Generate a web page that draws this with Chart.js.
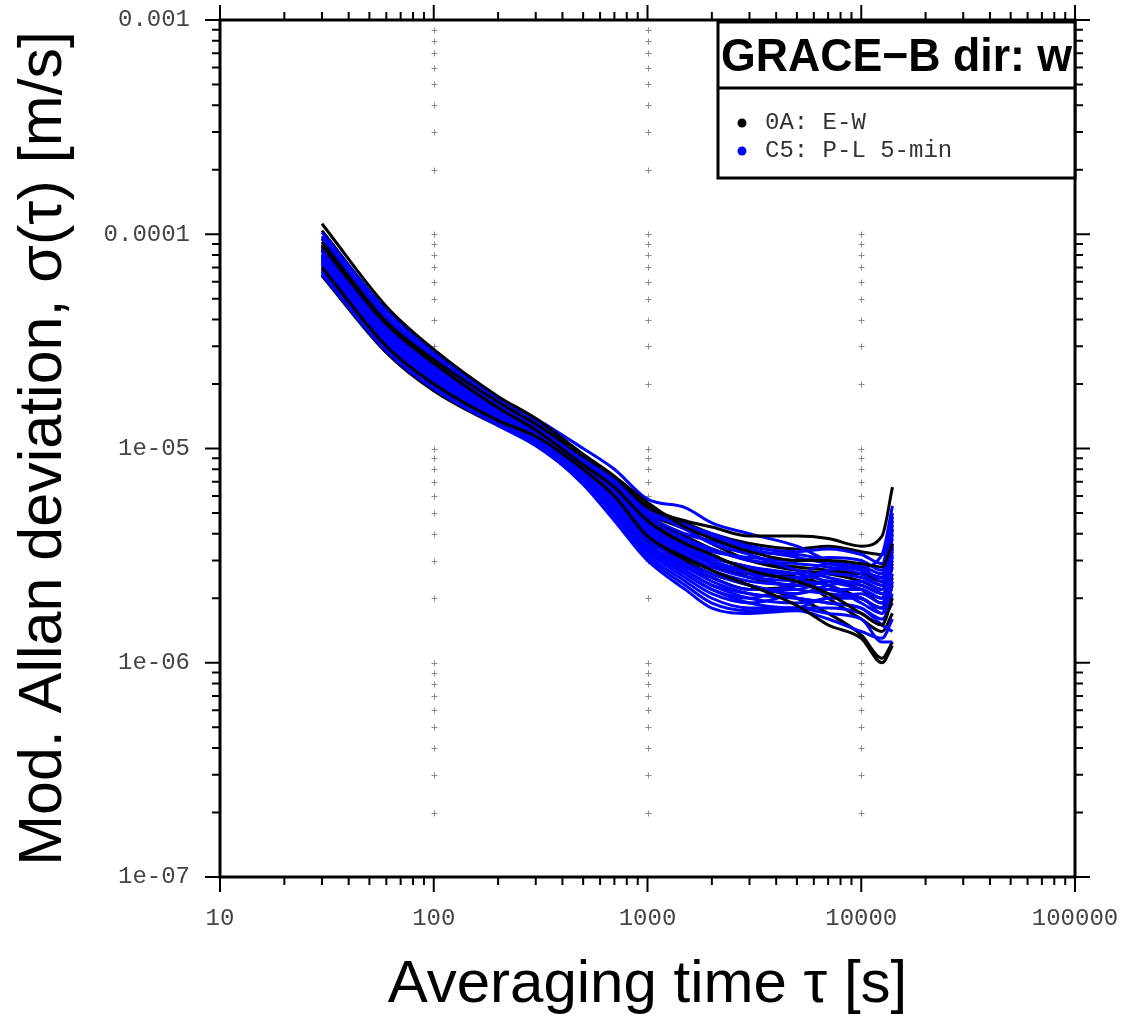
<!DOCTYPE html>
<html>
<head>
<meta charset="utf-8">
<title>GRACE-B dir: w</title>
<script src="https://cdn.jsdelivr.net/npm/chart.js@4.4.1/dist/chart.umd.min.js"></script>
<style>
  html, body { margin: 0; padding: 0; background: #fff; }
  #wrap { width: 1122px; height: 1021px; position: relative; }
</style>
</head>
<body>
<div id="wrap"><canvas id="diagram"></canvas></div>
<script>
// averaging time tau [s]
const tau = [30, 60, 100, 200, 300, 500, 700, 1000, 1500, 2000, 3000, 5000, 7000, 10000, 12500, 14000];

// mod. Allan deviation per run, in 1e-6 m/s
const runsEW = [
  [112, 46, 29, 17.5, 13.8, 9.4, 7.4, 5.3, 4.6, 4.3, 3.9, 3.9, 3.8, 3.5, 3.9, 6.6],
  [104, 44, 28, 17, 13.2, 9.0, 7.2, 5.4, 4.5, 4.0, 3.6, 3.4, 3.5, 3.3, 3.2, 4.2],
  [96, 40, 26, 16, 12.6, 8.8, 6.9, 5.0, 4.2, 3.6, 3.0, 2.7, 2.6, 2.4, 2.2, 2.9],
  [88, 38, 25, 15.5, 12.2, 8.4, 6.6, 4.6, 3.6, 3.2, 2.7, 2.4, 2.1, 1.7, 1.5, 2.0],
  [80, 34, 23, 14.6, 11.8, 8.2, 6.2, 4.2, 3.4, 2.9, 2.5, 2.3, 2.4, 2.2, 1.9, 2.5],
  [74, 31, 21, 13.5, 11.0, 7.8, 5.8, 3.9, 3.0, 2.6, 2.3, 2.0, 1.7, 1.35, 1.05, 1.25],
  [70, 30, 20, 13.5, 11.4, 8.0, 6.0, 3.9, 3.1, 2.7, 2.3, 1.85, 1.5, 1.3, 1.0, 1.2],
  [66, 28.5, 19, 13.0, 11.0, 7.5, 5.6, 3.7, 3.1, 2.8, 2.6, 2.5, 2.3, 2.0, 1.8, 2.3],
  [64, 28, 18.6, 12.8, 10.8, 7.2, 5.4, 3.6, 2.8, 2.5, 2.2, 2.3, 2.6, 2.6, 2.4, 3.0],
  [92, 39, 26, 16.5, 13.0, 9.2, 7.4, 5.6, 4.3, 3.8, 3.3, 3.0, 3.0, 2.9, 2.8, 3.6],
  [84, 36, 24, 15.5, 12.0, 8.6, 6.9, 4.8, 3.9, 3.4, 3.0, 2.8, 2.7, 2.6, 2.5, 3.3],
  [78, 33, 22, 14, 11.3, 8.0, 6.3, 4.4, 3.5, 3.1, 2.8, 2.5, 2.0, 1.6, 1.4, 1.7]
];

const runsPL = [
  [102, 44, 28, 17.2, 13.8, 10.0, 8.0, 5.8, 5.3, 4.5, 4.0, 3.5, 3.0, 2.8, 3.2, 5.4],
  [98, 42, 27, 16.8, 13.5, 9.3, 7.2, 5.2, 4.4, 4.0, 3.5, 3.3, 3.4, 3.2, 2.9, 5.0],
  [95, 41, 26.5, 16.5, 13.2, 9.1, 7.0, 4.9, 4.0, 3.7, 3.3, 3.2, 3.0, 2.7, 2.5, 4.6],
  [92, 40, 26, 16, 12.8, 8.9, 6.8, 4.7, 3.8, 3.4, 3.0, 2.9, 2.8, 2.6, 2.3, 4.2],
  [90, 38, 25, 15.7, 12.5, 8.7, 6.6, 4.5, 3.7, 3.3, 3.1, 3.0, 3.1, 3.0, 2.7, 3.8],
  [87, 37, 24.5, 15.4, 12.3, 8.5, 6.4, 4.3, 3.5, 3.1, 2.8, 2.6, 2.4, 2.2, 2.0, 3.4],
  [85, 36, 24, 15.2, 12.1, 8.3, 6.2, 4.2, 3.3, 2.9, 2.6, 2.5, 2.6, 2.5, 2.3, 3.0],
  [83, 35, 23.5, 15, 11.9, 8.1, 6.0, 4.0, 3.1, 2.7, 2.4, 2.3, 2.2, 2.0, 1.8, 2.6],
  [81, 34.5, 23, 14.8, 11.7, 7.9, 5.8, 3.8, 2.9, 2.5, 2.2, 2.2, 2.4, 2.3, 2.1, 2.2],
  [79, 34, 22.5, 14.5, 11.5, 7.7, 5.6, 3.6, 2.8, 2.4, 2.1, 2.0, 1.9, 1.8, 1.6, 1.9],
  [77, 33, 22, 14.3, 11.3, 7.5, 5.4, 3.5, 2.7, 2.3, 2.0, 1.9, 2.0, 2.1, 1.9, 2.8],
  [75, 32, 21.5, 14, 11.1, 7.3, 5.2, 3.4, 2.6, 2.2, 1.9, 1.8, 1.8, 1.7, 1.5, 2.4],
  [73, 31, 21, 13.8, 10.9, 7.1, 5.0, 3.2, 2.4, 2.0, 1.8, 1.8, 1.7, 1.6, 1.25, 1.25],
  [71, 30, 20.5, 13.5, 10.7, 6.9, 4.8, 3.1, 2.3, 1.9, 1.75, 1.8, 2.0, 2.0, 1.7, 3.2],
  [69, 29.5, 20, 13.2, 10.5, 6.8, 4.6, 3.0, 2.2, 1.8, 1.7, 1.75, 1.6, 1.4, 1.3, 1.6],
  [67, 29, 19.5, 13, 10.4, 6.9, 4.9, 3.3, 2.5, 2.1, 1.9, 2.1, 2.2, 2.2, 2.0, 3.6],
  [65, 28.5, 19, 12.8, 10.3, 7.0, 5.1, 3.4, 2.6, 2.2, 2.0, 2.4, 2.7, 2.8, 2.6, 4.4],
  [88, 37.5, 25, 15.6, 12.4, 8.8, 7.0, 5.2, 4.2, 3.6, 3.2, 2.7, 2.5, 2.3, 2.1, 2.0],
  [84, 35.5, 24, 15.3, 12.2, 8.6, 6.6, 4.6, 3.6, 3.0, 2.7, 2.6, 2.9, 2.8, 2.4, 3.1],
  [76, 32.5, 22, 14.4, 11.6, 8.2, 6.2, 4.1, 3.2, 2.8, 2.5, 2.4, 2.3, 1.9, 1.7, 2.1],
  [86, 36.5, 24.5, 15.5, 12.6, 9.0, 7.1, 5.0, 4.4, 3.9, 3.4, 3.1, 2.9, 2.7, 2.5, 4.8],
  [80, 34, 23, 14.9, 12.0, 8.4, 6.3, 4.4, 3.4, 3.0, 2.6, 2.2, 2.1, 2.0, 1.8, 3.5],
  [72, 31, 21, 13.9, 11.2, 7.6, 5.5, 3.6, 2.9, 2.6, 2.3, 2.1, 2.3, 2.4, 2.2, 4.0],
  [68, 29.5, 20, 13.4, 10.8, 7.2, 5.2, 3.5, 2.7, 2.3, 2.1, 2.0, 1.9, 1.8, 1.5, 1.4]
];

const seriesNames = ["0A: E-W", "C5: P-L 5-min"];
const seriesColors = ["#000000", "#0000ff"];
const boxTitle = "GRACE\u2212B dir: w";

const xDecades = [10, 100, 1000, 10000, 100000];
const xTickLabels = ["10", "100", "1000", "10000", "100000"];
const yDecades = [1e-7, 1e-6, 1e-5, 1e-4, 1e-3];
const yTickLabels = ["1e-07", "1e-06", "1e-05", "0.0001", "0.001"];

const monoFont = "'Liberation Mono', 'DejaVu Sans Mono', monospace";
const sansFont = "'Liberation Sans', Arial, sans-serif";

// 1..9 x each decade, used for minor ticks and the "+" grid
function allTicks(decades) {
  const out = [];
  for (let i = 0; i < decades.length - 1; i++) {
    for (let m = 1; m < 10; m++) out.push(decades[i] * m);
  }
  out.push(decades[decades.length - 1]);
  return out;
}

function toDataset(run, name, color, order) {
  return {
    label: name,
    data: run.map((v, i) => ({ x: tau[i], y: v * 1e-6 })),
    borderColor: color,
    borderWidth: 3,
    pointRadius: 0,
    fill: false,
    cubicInterpolationMode: "monotone",
    order: order
  };
}

// blue mostly on top, a few black runs drawn over it
const datasets = [];
runsPL.forEach((run) => datasets.push(toDataset(run, seriesNames[1], seriesColors[1], 1)));
runsEW.forEach((run, i) => datasets.push(toDataset(run, seriesNames[0], seriesColors[0], i % 3 === 0 ? 0 : 2)));

// gray "+" marks at major x / every y tick
const plusGrid = {
  id: "plusGrid",
  beforeDatasetsDraw(chart) {
    const { ctx, scales } = chart;
    ctx.save();
    ctx.strokeStyle = "#8c8c8c";
    ctx.lineWidth = 1;
    const ys = allTicks(yDecades).slice(1, -1);
    xDecades.slice(1, -1).forEach((xv) => {
      const px = Math.round(scales.x.getPixelForValue(xv)) + 0.5;
      ys.forEach((yv) => {
        const py = Math.round(scales.y.getPixelForValue(yv)) + 0.5;
        ctx.beginPath();
        ctx.moveTo(px - 3, py);
        ctx.lineTo(px + 3, py);
        ctx.moveTo(px, py - 3);
        ctx.lineTo(px, py + 3);
        ctx.stroke();
      });
    });
    ctx.restore();
  }
};

// frame, outward ticks on all four sides, and the boxed legend
const frameAndLegend = {
  id: "frameAndLegend",
  afterDraw(chart) {
    const { ctx, chartArea: a, scales } = chart;
    const isMajor = (v) => Math.abs(Math.log10(v) - Math.round(Math.log10(v))) < 1e-9;
    ctx.save();
    ctx.strokeStyle = "#000";
    ctx.lineWidth = 2;
    allTicks(xDecades).forEach((v) => {
      const px = scales.x.getPixelForValue(v);
      const len = isMajor(v) ? 15 : 8;
      ctx.beginPath();
      ctx.moveTo(px, a.bottom);
      ctx.lineTo(px, a.bottom + len);
      ctx.moveTo(px, a.top);
      ctx.lineTo(px, a.top - len);
      ctx.stroke();
    });
    allTicks(yDecades).forEach((v) => {
      const py = scales.y.getPixelForValue(v);
      const len = isMajor(v) ? 15 : 8;
      ctx.beginPath();
      ctx.moveTo(a.left, py);
      ctx.lineTo(a.left - len, py);
      ctx.moveTo(a.right, py);
      ctx.lineTo(a.right + len, py);
      ctx.stroke();
    });
    ctx.lineWidth = 3;
    ctx.strokeRect(a.left, a.top, a.right - a.left, a.bottom - a.top);

    // legend box
    const bw = 357, bx = a.right - bw, by = a.top + 2;
    const titleH = 66, listH = 90;
    ctx.fillStyle = "#fff";
    ctx.fillRect(bx, by, bw, titleH + listH);
    ctx.lineWidth = 3;
    ctx.strokeRect(bx, by, bw, titleH + listH);
    ctx.beginPath();
    ctx.moveTo(bx, by + titleH);
    ctx.lineTo(bx + bw, by + titleH);
    ctx.stroke();
    ctx.fillStyle = "#000";
    ctx.font = "bold 46px " + sansFont;
    ctx.textBaseline = "middle";
    ctx.textAlign = "center";
    ctx.fillText(boxTitle, bx + bw / 2, by + titleH / 2 + 3, bw - 6);
    ctx.textAlign = "left";
    ctx.font = "24px " + monoFont;
    seriesNames.forEach((name, i) => {
      const ey = by + titleH + 35 + i * 28;
      ctx.fillStyle = seriesColors[i];
      ctx.beginPath();
      ctx.arc(bx + 24, ey, 4.5, 0, Math.PI * 2);
      ctx.fill();
      ctx.fillStyle = "#333";
      ctx.fillText(name, bx + 47, ey);
    });
    ctx.restore();
  }
};

// keep the plot box fixed: drop the label overhang padding
function noOverhang(s) {
  s.paddingTop = 0;
  s.paddingBottom = 0;
  s.paddingLeft = 0;
  s.paddingRight = 0;
}

const config = {
  type: "line",
  data: { datasets: datasets },
  options: {
    responsive: false,
    animation: false,
    layout: { padding: { left: 0, top: 20, right: 47, bottom: 0 } },
    plugins: { legend: { display: false }, tooltip: { enabled: false } },
    scales: {
      x: {
        type: "logarithmic",
        min: xDecades[0],
        max: xDecades[xDecades.length - 1],
        afterBuildTicks: (s) => { s.ticks = xDecades.map((v) => ({ value: v })); },
        afterFit: (s) => { s.height = 144; noOverhang(s); },
        grid: { display: false, drawTicks: false },
        border: { display: false },
        ticks: {
          autoSkip: false,
          maxRotation: 0,
          padding: 27,
          color: "#444",
          font: { family: monoFont, size: 24 },
          callback: (v) => xTickLabels[xDecades.indexOf(v)]
        },
        title: {
          display: true,
          text: "Averaging time \u03c4 [s]",
          color: "#000",
          font: { family: sansFont, size: 60 },
          padding: { top: 0, bottom: 0 }
        }
      },
      y: {
        type: "logarithmic",
        min: yDecades[0],
        max: yDecades[yDecades.length - 1],
        afterBuildTicks: (s) => { s.ticks = yDecades.map((v) => ({ value: v })); },
        afterFit: (s) => { s.width = 220; noOverhang(s); },
        grid: { display: false, drawTicks: false },
        border: { display: false },
        ticks: {
          autoSkip: false,
          padding: 30,
          color: "#444",
          font: { family: monoFont, size: 24 },
          callback: (v) => yTickLabels[yDecades.findIndex((d) => Math.abs(d - v) / d < 1e-6)]
        },
        title: {
          display: true,
          text: "Mod. Allan deviation, \u03c3(\u03c4) [m/s]",
          color: "#000",
          font: { family: sansFont, size: 61 },
          padding: { top: 8, bottom: 0 }
        }
      }
    }
  },
  plugins: [plusGrid, frameAndLegend]
};

const canvas = document.getElementById("diagram");
canvas.width = 1122;
canvas.height = 1021;
new Chart(canvas, config);
</script>
</body>
</html>
